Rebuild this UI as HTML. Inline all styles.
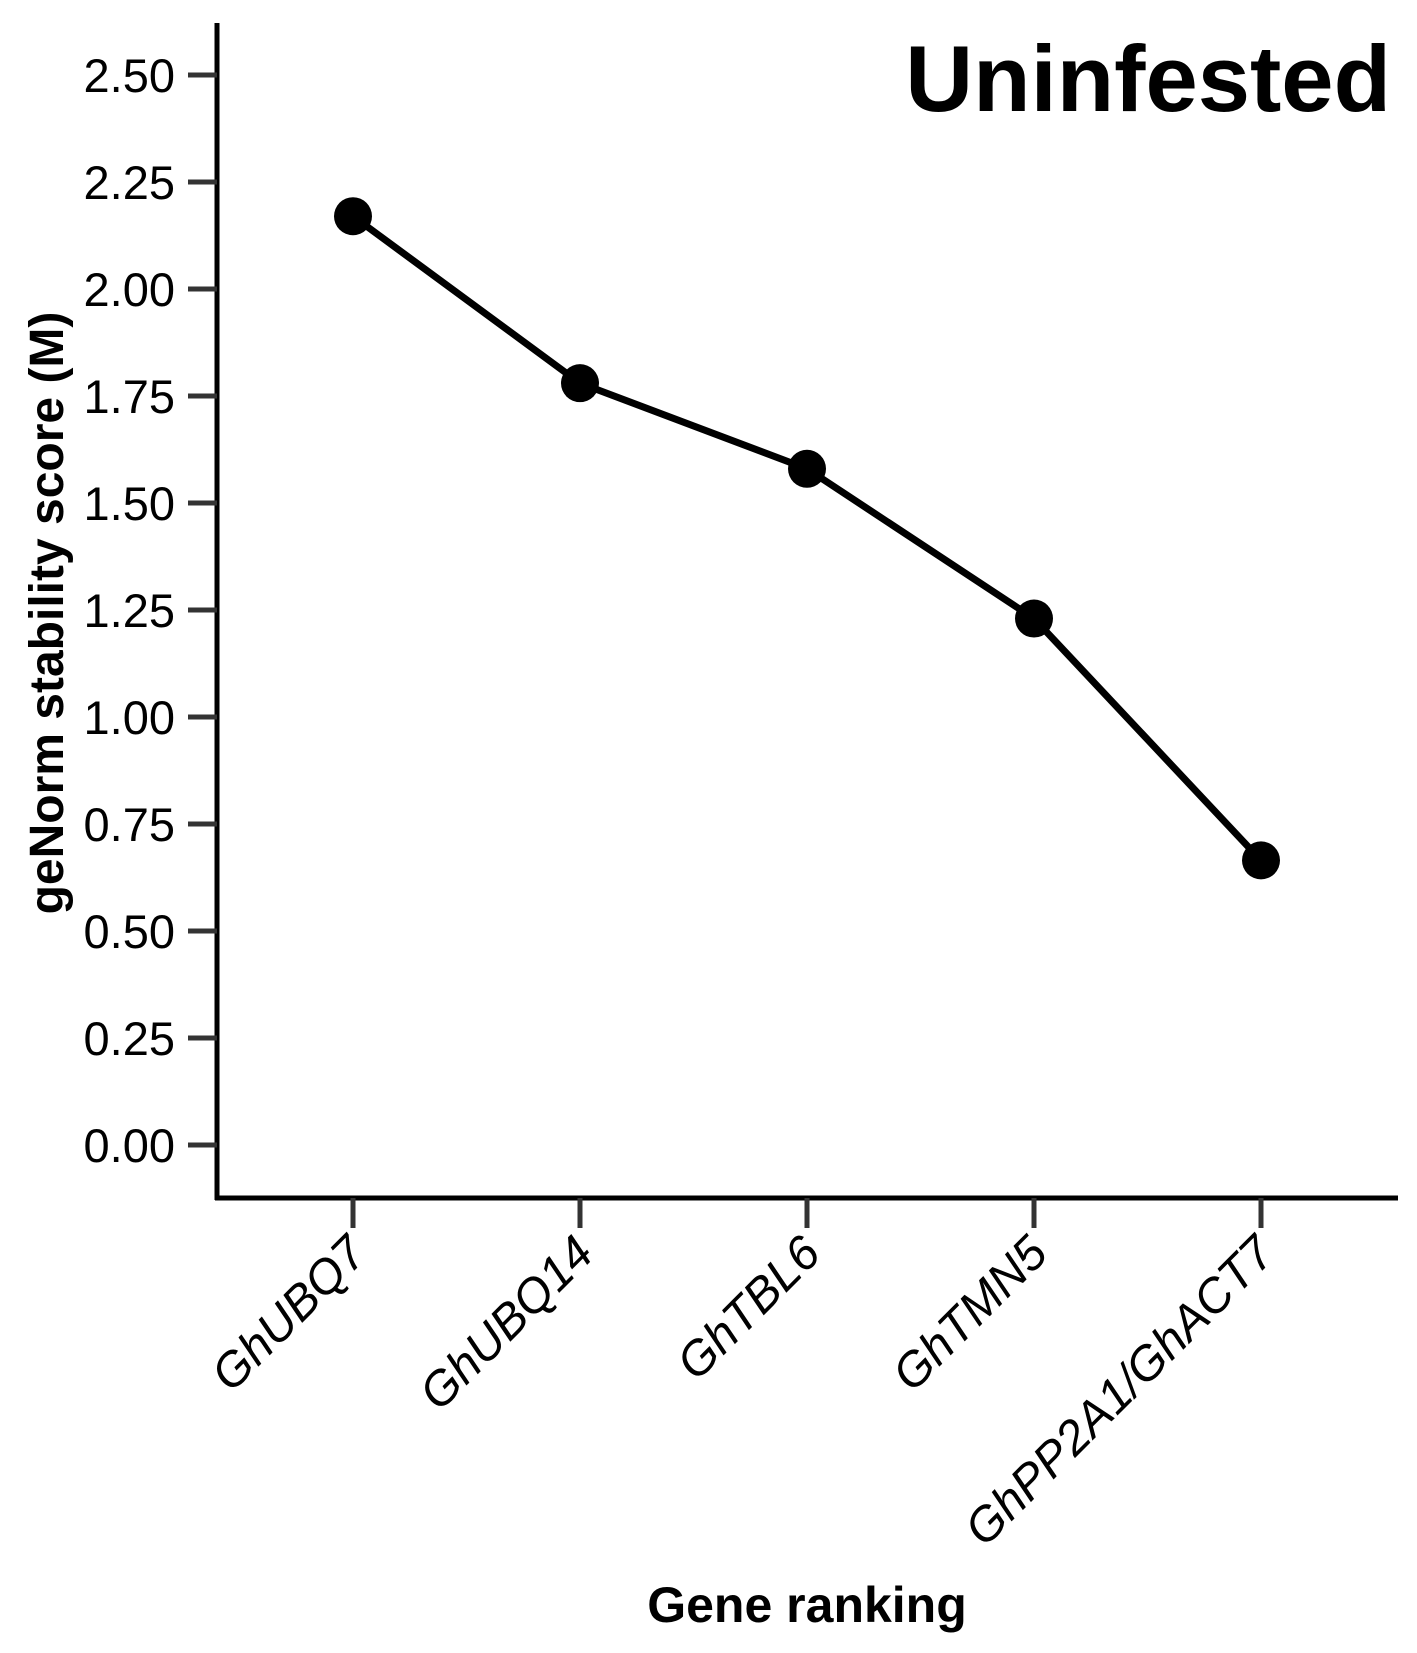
<!DOCTYPE html>
<html><head><meta charset="utf-8"><style>html,body{margin:0;background:#fff}svg{display:block}text{font-family:"Liberation Sans",sans-serif}</style></head>
<body>
<svg id="chart" width="1417" height="1653" viewBox="0 0 1417 1653"></svg>
<script>
const categories=["GhUBQ7","GhUBQ14","GhTBL6","GhTMN5","GhPP2A1/GhACT7"];
const values=[2.17,1.78,1.58,1.23,0.665];
const yTicks=[0,0.25,0.5,0.75,1,1.25,1.5,1.75,2,2.25,2.5];
const yTickLabels=["0.00","0.25","0.50","0.75","1.00","1.25","1.50","1.75","2.00","2.25","2.50"];
const svg=document.getElementById('chart');
const NS='http://www.w3.org/2000/svg';
function y(v){return 1145-(v/2.5)*1070;}
function x(i){return 353+i*227;}
function mk(t,a,p){const e=document.createElementNS(NS,t);for(const k in a)e.setAttribute(k,a[k]);(p||svg).appendChild(e);return e;}
let e;
e=mk('line',{x1:217,y1:23,x2:217,y2:1200,stroke:'#000','stroke-width':5});


e=mk('line',{x1:215,y1:1198,x2:1398,y2:1198,stroke:'#000','stroke-width':5});


yTicks.forEach((v,i)=>{
 e=mk('line',{x1:188,y1:y(v),x2:217,y2:y(v),stroke:'#333','stroke-width':5});
 
 
 e=mk('text',{x:175,y:y(v)+17,'text-anchor':'end','font-size':47,fill:'#000'});
 e.textContent=yTickLabels[i];
 
 
});
categories.forEach((c,i)=>{
 e=mk('line',{x1:x(i),y1:1198,x2:x(i),y2:1228,stroke:'#333','stroke-width':5});
 
 
 e=mk('text',{x:x(i)+16,y:1256,'text-anchor':'end','font-size':48,'font-style':'italic',transform:`rotate(-45 ${x(i)+16} 1256)`});
 e.textContent=c;
 
 
});
e=mk('polyline',{points:values.map((v,i)=>x(i)+','+y(v)).join(' '),fill:'none',stroke:'#000','stroke-width':7});


values.forEach((v,i)=>{
 e=mk('circle',{cx:x(i),cy:y(v),r:19,fill:'#000'});
 
 
});
e=mk('text',{x:1391,y:111,'text-anchor':'end','font-size':94,'font-weight':'bold'});
e.textContent='Uninfested';


e=mk('text',{x:63,y:613,'text-anchor':'middle','font-size':48,'font-weight':'bold',transform:'rotate(-90 63 613)'});
e.textContent='geNorm stability score (M)';


e=mk('text',{x:807,y:1622,'text-anchor':'middle','font-size':50,'font-weight':'bold'});
e.textContent='Gene ranking';


</script>
</body></html>
